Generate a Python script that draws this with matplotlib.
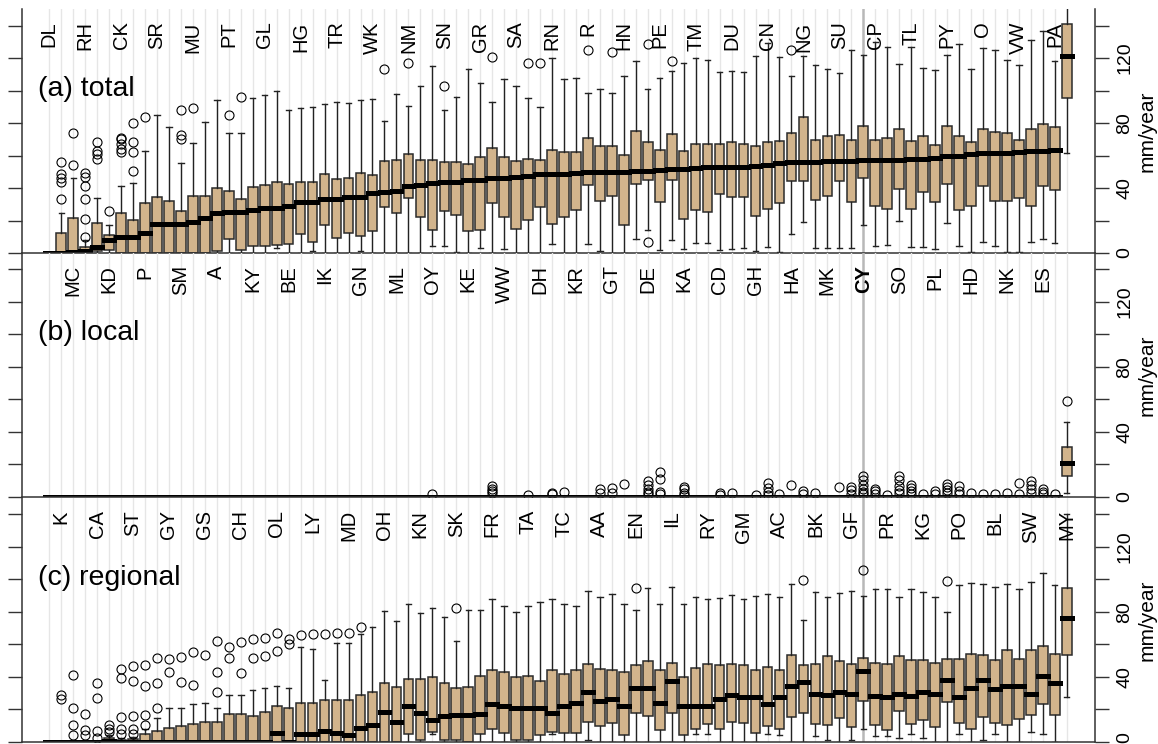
import matplotlib.pyplot as plt

plt.rcParams['font.family'] = ['Liberation Sans', 'DejaVu Sans']

# site codes, left to right
sites = ['DL', 'K', 'MC', 'RH', 'CA', 'KD', 'CK', 'ST', 'P', 'SR', 'GY', 'SM', 'MU', 'GS', 'A',
         'PT', 'CH', 'KY', 'GL', 'OL', 'BE', 'HG', 'LY', 'IK', 'TR', 'MD', 'GN', 'WK', 'OH', 'ML',
         'NM', 'KN', 'OY', 'SN', 'SK', 'KE', 'GR', 'FR', 'WW', 'SA', 'TA', 'DH', 'RN', 'TC', 'KR',
         'R', 'AA', 'GT', 'HN', 'EN', 'DE', 'PE', 'IL', 'KA', 'TM', 'RY', 'CD', 'DU', 'GM', 'GH',
         'CN', 'AC', 'HA', 'NG', 'BK', 'MK', 'SU', 'GF', 'CY', 'CP', 'PR', 'SO', 'TL', 'KG', 'PL',
         'PY', 'PO', 'HD', 'O', 'BL', 'NK', 'VW', 'SW', 'ES', 'PA', 'MY']
highlight = 'CY'

# (a) total
tot_q1 = [0, 0, 0, 0, 1, 2, 0, 0, 0, 0, 0, 0, 0, 0, 1, 8.4, 2, 4.5, 4.5, 5,
          5.5, 11.7, 6.8, 17, 9, 12.5, 10.5, 13.5, 28.3, 24.6, 33.8, 21.9, 14.4, 26.1, 23.6, 13.3, 14.4, 30.8, 22.2, 14.8,
          20.5, 28.3, 17.8, 21.9, 26.7, 41.6, 32.2, 35.3, 17.0, 42.7, 44.7, 31.4, 44.7, 20.9, 26.7, 25.2, 36.3, 34.5, 34.5, 22.6,
          27.3, 30.8, 44.1, 44.1, 32.8, 35.3, 44.1, 31.4, 46.2, 29.1, 27.3, 39.4, 27.3, 37.5, 31.4, 42.7, 26.7, 29.1, 41.0, 32.2,
          32.2, 33.8, 29.1, 41.0, 38.6, 95.4]
tot_med = [0, 0, 0.5, 1.5, 4, 8, 10, 10, 12.3, 18, 18, 18, 19, 21.5, 24.4, 25, 25.4, 26.5, 27.5, 27.5,
           29, 31.6, 31.6, 33, 33, 34.5, 34.5, 37, 37.7, 38, 41, 42, 43, 43.7, 44, 45, 45, 46, 46, 47,
           47.6, 48.6, 48.6, 48.6, 49, 49.6, 49.6, 50, 50, 50.7, 50.7, 51.3, 51.7, 51.7, 52.5, 53, 53, 53, 53, 53.7,
           54.4, 55.4, 56, 56, 56, 56.4, 56.4, 56.4, 57, 57, 57.4, 57.4, 57.8, 57.8, 58.3, 59.5, 60, 61, 61.5, 61.5,
           61.5, 62, 62.6, 62.6, 63.6, 121.4]
tot_q3 = [0, 12.3, 21.5, 4, 18.7, 11, 24.4, 20.3, 30.8, 34.5, 32, 26, 35, 35, 40, 38, 33.4, 40.4, 41.6, 44,
          42.3, 44, 44, 48.6, 45.5, 46, 49.4, 48, 56.6, 57.4, 61.1, 57.4, 57.4, 55.8, 55.8, 55.0, 59.1, 64.6, 59.1, 56.4,
          58.1, 57.4, 63.6, 61.9, 61.9, 70.8, 66.1, 66.1, 60.5, 74.9, 68.3, 63.6, 73.2, 63.0, 67.3, 67.3, 67.3, 68.3, 67.3, 66.1,
          68.3, 69.1, 73.8, 83.5, 69.7, 71.8, 72.4, 69.7, 77.9, 69.7, 70.8, 76.3, 69.1, 71.8, 66.7, 77.9, 72.2, 68.1, 76.3, 74.7,
          73.8, 69.7, 76.3, 79.4, 77.3, 141.1]
tot_lo = [0, 0, 0, 0, 0, 0, 0, 0, 0, 0, 0, 0, 0, 0, 0, 0, 0, 0, 0, 3,
          0, 0, 1, 0, 0, 0, 1.5, 0, 0, 0, 0, 0, 4.5, 4.5, 0.5, 0, 3, 0, 2.5, 0,
          0, 0, 5.5, 0, 0, 5.5, 1.4, 0, 0, 8.6, 14.4, 2, 8.2, 2.5, 6, 6, 1.6, 2.5, 3, 1,
          3.7, 0.4, 11.7, 19, 3, 3, 3, 3, 17, 4.5, 5, 20, 3.7, 3.7, 2.5, 18.5, 4.5, 0.4, 7, 4.5,
          0.4, 0.4, 7, 8.6, 6, 61.5]
tot_hi = [0, 24.6, 46, 8, 34, 17, 41, 43, 62.5, 85, 77.5, 55.6, 68, 80.4, 94, 74, 74, 95.2, 97, 100,
          88, 89, 90, 91.5, 93, 92.3, 94, 94.6, 81, 97.7, 90.7, 102.6, 115, 88, 96, 113.4, 104.6, 92.7, 107, 102.6,
          95.4, 90, 120, 107, 108, 98.5, 101, 98.5, 108.7, 118, 101, 107.7, 112, 117, 120, 119, 111.4, 112, 111.4, 121.4,
          129, 120.6, 108.7, 121, 116, 113.4, 111, 125, 122, 130, 126.8, 116.5, 126.6, 114, 112.4, 122, 128.6, 113.4, 126, 125,
          119, 116, 131, 136.4, 118.4, 160]
tot_out = {2: [33, 44, 46, 48.6, 56], 3: [54, 74], 4: [10, 21, 33, 41, 47, 49], 5: [58, 61, 63, 68.5],
           6: [26], 7: [62, 64, 67, 70, 71], 8: [50.7, 62, 68.5, 80], 9: [84], 12: [70, 72.6, 88],
           13: [89], 16: [84.7], 17: [95.8], 29: [113], 31: [117], 34: [103], 38: [120.6], 41: [117],
           42: [117], 46: [125], 48: [123.5], 51: [6.6, 128.6], 53: [118.4], 63: [125]}

# (b) local
loc_q1 = [0] * 85 + [13]
loc_med = [0] * 85 + [21]
loc_q3 = [0] * 85 + [30.4]
loc_lo = [0] * 85 + [2.5]
loc_hi = [0] * 85 + [46]
loc_out = {33: [1.4], 38: [2, 3.5, 5, 6.5], 41: [1], 43: [1.5, 2.5], 44: [3], 47: [2, 4.5],
           48: [2.5, 5.5], 49: [7.6], 51: [1.5, 3, 5, 7.5, 9.5], 52: [1.5, 3, 11, 15],
           54: [1, 2.5, 4.5, 6], 57: [1, 2.5], 58: [2], 60: [1], 61: [1, 3, 5.5, 8.5], 62: [1.5],
           63: [7], 64: [1.5, 3.5], 65: [2.5], 67: [6], 68: [1.5, 4, 6], 69: [1.5, 3, 5, 7.5, 10, 12.5],
           70: [1.5, 3.5, 5], 71: [1], 72: [2, 4, 6.5, 10.5, 13], 73: [1.5, 3.5, 5.5, 7.5], 74: [1.5],
           75: [1.5, 3.5], 76: [2, 4, 6, 8], 77: [1.5, 3.5, 6.5], 78: [2.5], 79: [1.5], 80: [1.5],
           81: [2], 82: [1.5, 8.5], 83: [2, 4.5, 7, 9.5], 84: [1.5, 3, 5], 85: [1.5], 86: [59]}

# (c) regional
reg_q1 = [0] * 30 + [4.5, 1.0, 6.2, 1.0, 1.0, 0, 4.5, 7.8, 5.1, 1.0,
                     1.0, 4.1, 6.2, 5.6, 5.6, 12.3, 9.6, 11.7, 4.1, 17.5, 15.8, 7.2, 17.5, 4.1, 7.8, 10.9, 7.8, 12.3, 11.7, 5.6,
                     9.7, 7.6, 15.4, 17.5, 10.9, 10.3, 14.4, 8.8, 25.0, 10.3, 7.2, 18.9, 10.9, 13.4, 9.2, 24.2, 11.7, 7.6, 15.4, 11.7,
                     10.3, 14.0, 16.4, 23.0, 16.4, 53.4]
reg_med = [0, 0, 0, 0, 0, 0.5, 0, 0, 0, 0, 0, 0, 0, 0, 0, 0, 0, 0, 0, 5.5,
           0, 5, 4.5, 6.6, 5.5, 4, 8.2, 10.3, 18.5, 12.3, 22.2, 17.5, 13.4, 16.0, 16.4, 16.4, 17.0, 23.0, 22.2, 20.9,
           20.9, 20.9, 17.5, 22.2, 23.6, 30.8, 25.3, 26.3, 22.2, 33.3, 33.3, 23.6, 37.4, 22.2, 22.2, 22.2, 26.3, 28.7, 27.7, 27.3,
           23.0, 27.3, 34.3, 36.5, 29.3, 28.7, 30.8, 29.1, 43.5, 28.1, 27.3, 29.3, 28.1, 30.8, 29.1, 37.9, 27.7, 33.3, 37.9, 32.4,
           34.3, 34.5, 29.1, 40.4, 36.3, 76.3]
reg_q3 = [0, 0, 0, 0, 0, 2, 1, 1.5, 4.5, 6.6, 8.6, 9.6, 10.9, 12.3, 12.3, 17.2, 17.2, 15.8, 18, 22.2,
          21, 24, 24, 25.6, 25.6, 25.6, 29, 30.8, 36.3, 33.8, 38.6, 38.6, 40.0, 35.9, 32.8, 33.9, 40.6, 44.1, 43.1, 40.0,
          40.6, 37.6, 44.1, 41.6, 44.1, 47.8, 44.7, 44.1, 43.1, 47.2, 49.7, 44.1, 48.6, 40.0, 45.6, 47.8, 47.2, 47.8, 47.2, 44.1,
          46.2, 44.1, 53.4, 47.2, 47.8, 52.7, 49.7, 47.8, 51.7, 48.6, 47.8, 52.7, 50.3, 50.3, 48.6, 50.7, 50.7, 53.9, 53.4, 50.3,
          56.4, 50.7, 56.4, 58.9, 53.9, 94.4]
reg_lo = [0] * 32 + [4.5, 0, 0, 0, 0, 0, 0, 0,
                     0, 0, 4.5, 0, 0, 1.0, 0, 0, 0, 0, 0, 0, 0, 0, 4.5, 4.5, 0, 0, 0, 0,
                     4.5, 4.1, 0, 0, 3.5, 1, 0, 1, 7.6, 3.5, 3.7, 2.5, 4.5, 2.5, 0, 0, 4.5, 0, 1, 4.5,
                     0, 0, 6.2, 4.5, 0, 27.7]
reg_hi = [0, 0, 0, 0, 0, 4, 2, 3, 8, 14.8, 20.5, 21, 23, 23.6, 21, 29, 29, 32, 33.3, 34.5,
          33.3, 58, 57, 38, 61, 61, 66, 70.8, 80.4, 74, 85, 79, 82.5, 76.9, 62, 81, 81, 87.6, 83.5, 79.6,
          83.5, 85.7, 87.6, 85, 83.5, 92.9, 88.8, 90.7, 84.5, 81, 94.4, 84.5, 95.4, 85, 88.8, 87.8, 88.2, 90.3, 87.6, 89.8,
          90.7, 89.2, 97, 74.9, 92.3, 89.2, 91.3, 92.9, 89.8, 93.7, 93.7, 89.2, 93.7, 92.3, 89.2, 79.6, 96.4, 97.8, 96.8, 95.4,
          96.8, 93.7, 98.5, 104, 96.4, 140]
reg_out = {2: [26, 29], 3: [4, 10, 21, 41], 4: [4, 7, 17], 5: [2.5, 6.5, 27, 36], 6: [6, 8, 10],
           7: [4.5, 8, 15, 39, 44.8], 8: [5, 8, 16, 37.6, 46.8], 9: [10, 16.4, 34, 47], 10: [21, 36, 51.7],
           11: [43, 50.7], 12: [36.5, 52.3], 13: [35, 55.4], 14: [53.4], 15: [30.8, 43, 62],
           16: [51.3, 58.5], 17: [42.5, 61.5], 18: [51.3, 63], 19: [53, 64], 20: [56, 66.7], 21: [60, 63],
           22: [65.6], 23: [66], 24: [66], 25: [67], 26: [67], 27: [70.4], 35: [82.5], 50: [94.8],
           64: [99.5], 69: [105.7], 76: [98.9]}

panels = [
    ('(a) total', tot_q1, tot_med, tot_q3, tot_lo, tot_hi, tot_out, 0),
    ('(b) local', loc_q1, loc_med, loc_q3, loc_lo, loc_hi, loc_out, 2),
    ('(c) regional', reg_q1, reg_med, reg_q3, reg_lo, reg_hi, reg_out, 1),
]

fig = plt.figure(figsize=(11.58, 7.44), dpi=100)
bottoms = [0.6599, 0.3324, 0.0031]
pos = list(range(1, len(sites) + 1))

for i, (title, q1, med, q3, lo, hi, out, row) in enumerate(panels):
    ax = fig.add_axes([0.019, bottoms[i], 0.9266, 0.3276])

    # light vertical guide lines, darker one for the highlighted site
    for p, s in zip(pos, sites):
        if s == highlight:
            ax.axvline(p, color='#b8b8b8', lw=1.8, zorder=0)
        else:
            ax.axvline(p, color='#e6e6e6', lw=1.0, zorder=0)

    stats = []
    for k in range(len(sites)):
        stats.append(dict(q1=q1[k], med=med[k], q3=q3[k], whislo=lo[k], whishi=hi[k],
                          fliers=out.get(k + 1, [])))
    bp = ax.bxp(stats, positions=pos, widths=0.8, capwidths=0.45, patch_artist=True,
                manage_ticks=False,
                boxprops=dict(facecolor='#D2B48C', edgecolor='#2b2b2b', linewidth=1.1),
                medianprops=dict(color='black', linewidth=3.6),
                whiskerprops=dict(color='#222222', linewidth=1.0),
                capprops=dict(color='#222222', linewidth=1.0),
                flierprops=dict(marker='o', markerfacecolor='none', markeredgecolor='black',
                                markersize=6.5, markeredgewidth=0.8))
    for line in bp['medians']:
        line.set_solid_capstyle('projecting')

    # site labels, staggered over the three panels
    for k, s in enumerate(sites):
        if k % 3 == row:
            ax.text(pos[k], 142.5, s, rotation=90, ha='center', va='top', fontsize=14.5,
                    fontweight='bold' if s == highlight else 'normal')

    ax.text(0.015, 101, title, transform=ax.get_yaxis_transform(), ha='left', va='center',
            fontsize=20.5)

    ax.set_xlim(-1.28, 88.36)
    ax.set_ylim(0, 150)
    ax.set_xticks([])
    ax.set_yticks(range(0, 141, 20))
    ax.tick_params(axis='y', left=True, right=True, labelleft=False, labelright=False,
                   length=10, width=1, color='#333333')
    for v in [0, 40, 80, 120]:
        # keep the lowest label of the bottom panel inside the figure
        ty = 2.8 if (i == 2 and v == 0) else v
        ax.text(1.028, ty, str(v), transform=ax.get_yaxis_transform(), rotation=90,
                ha='center', va='center', fontsize=14, clip_on=False)
    ax.text(1.0485, 0.5, 'mm/year', transform=ax.transAxes, rotation=90,
            ha='center', va='center', fontsize=15)

    ax.spines['top'].set_visible(False)
    for side in ['left', 'right', 'bottom']:
        ax.spines[side].set_linewidth(1.1)
        ax.spines[side].set_color('#333333')
    ax.patch.set_alpha(0)

plt.savefig('out.png', dpi=100)
